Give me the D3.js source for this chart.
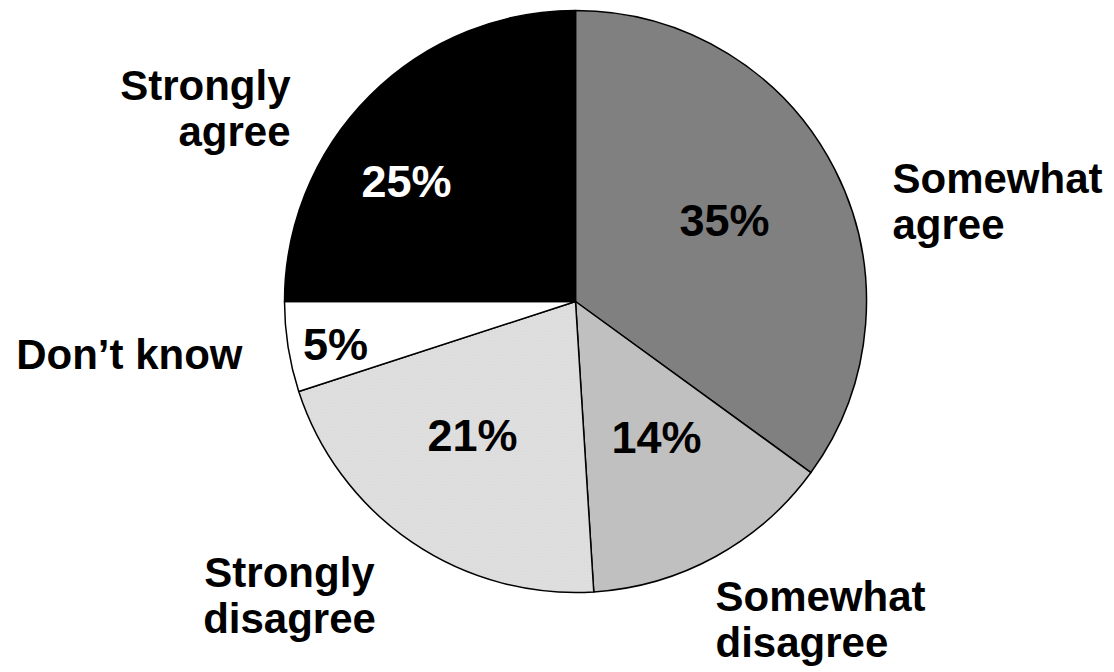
<!DOCTYPE html>
<html><head><meta charset="utf-8">
<script src="https://cdn.jsdelivr.net/npm/d3@7"></script>
<style>html,body{margin:0;padding:0;background:#fff;}svg{display:block;}</style>
</head><body>
<svg id="chart" width="1114" height="672"></svg>
<script>
const categories = ["Somewhat agree", "Somewhat disagree", "Strongly disagree", "Don\u2019t know", "Strongly agree"];
const values = [35, 14, 21, 5, 25];
const labelLines = [["Somewhat", "agree"], ["Somewhat", "disagree"], ["Strongly", "disagree"], ["Don\u2019t know"], ["Strongly", "agree"]];

// styles / layout (kept separate from data)
const fills = ["#808080", "#c0c0c0", "url(#dots)", "#ffffff", "#000000"];
const pctColors = ["#000", "#000", "#000", "#000", "#fff"];
const pctNudge = [[149, -82], [81, 135], [-103, 133], [-240, 42], [-169, -121]];
const labelPos = [[317, -109], [140, 309.5], [-286, 285.5], [-333, 67.5], [-285, -201.5]];
const labelAnchor = ["start", "start", "middle", "end", "end"];

const cx = 575.5, cy = 301.5, R = 291;
const svg = d3.select("#chart");

const defs = svg.append("defs");
const pat = defs.append("pattern").attr("id", "dots").attr("patternUnits", "userSpaceOnUse")
  .attr("width", 3).attr("height", 3);
pat.append("rect").attr("width", 3).attr("height", 3).attr("fill", "#e2e2e2");
pat.append("rect").attr("x", 0).attr("y", 0).attr("width", 1).attr("height", 1).attr("fill", "#d2d2d2");
pat.append("rect").attr("x", 1).attr("y", 1).attr("width", 1).attr("height", 1).attr("fill", "#d8d8d8");
pat.append("rect").attr("x", 2).attr("y", 2).attr("width", 1).attr("height", 1).attr("fill", "#d2d2d2");

const data = categories.map((c, i) => ({ cat: c, value: values[i], i }));
const pie = d3.pie().sort(null).value(d => d.value).startAngle(0).endAngle(2 * Math.PI);
const arc = d3.arc().innerRadius(0).outerRadius(R);
const arcs = pie(data);

const g = svg.append("g").attr("transform", `translate(${cx},${cy})`);
g.selectAll("path.slice").data(arcs).join("path")
  .attr("class", "slice")
  .attr("d", arc)
  .attr("fill", d => fills[d.data.i])
  .attr("stroke", "#000")
  .attr("stroke-width", 1.5)
  .attr("stroke-linejoin", "round");

// percentage labels
g.selectAll("text.pct").data(arcs).join("text")
  .attr("class", "pct")
  .attr("x", d => pctNudge[d.data.i][0])
  .attr("y", d => pctNudge[d.data.i][1])
  .attr("dy", "0.36em")
  .attr("text-anchor", "middle")
  .attr("font-family", "'Liberation Sans', Arial, sans-serif")
  .attr("font-weight", "bold")
  .attr("font-size", 45)
  .attr("fill", d => pctColors[d.data.i])
  .text(d => d.data.value + "%");

// category labels
const lab = g.selectAll("g.lab").data(arcs).join("g")
  .attr("class", "lab")
  .attr("transform", d => `translate(${labelPos[d.data.i][0]},${labelPos[d.data.i][1]})`);
lab.each(function (d) {
  const t = d3.select(this).append("text")
    .attr("text-anchor", labelAnchor[d.data.i])
    .attr("font-family", "'Liberation Sans', Arial, sans-serif")
    .attr("font-weight", "bold")
    .attr("font-size", 42)
    .attr("fill", "#000");
  labelLines[d.data.i].forEach((ln, k) => {
    t.append("tspan").attr("x", 0).attr("y", k * 46).text(ln);
  });
});
</script>
</body></html>
